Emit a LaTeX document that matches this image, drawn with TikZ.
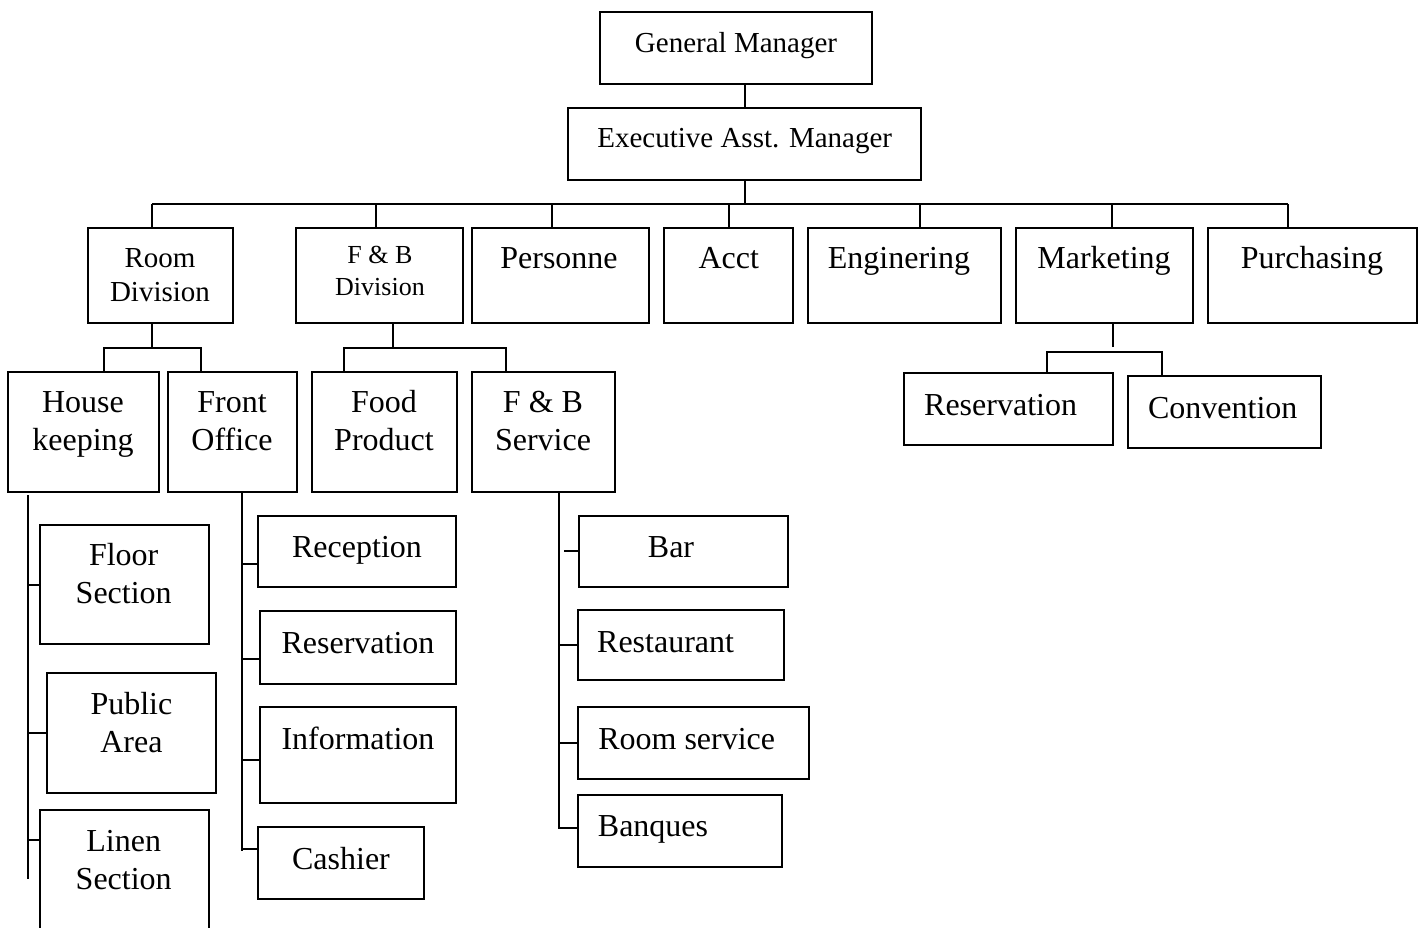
\documentclass[tikz,border=0pt]{standalone}
\usepackage{fontspec}
\setmainfont{Liberation Serif}
\usetikzlibrary{fit}
\begin{document}
\begin{tikzpicture}[x=0.5pt,y=-0.5pt,
  box/.style={draw, line width=1.1pt, inner sep=0pt, fit={#1}},
  link/.style={line width=1pt},
  txt/.style={anchor=base, inner sep=0pt, align=center, yshift=-1pt},
  ta/.style={txt, font=\fontsize{14.5}{17}\selectfont},
  tb/.style={txt, font=\fontsize{16}{19}\selectfont},
  tc/.style={txt, font=\fontsize{13}{15.6}\selectfont}]
\useasboundingbox (0,0) rectangle (1423,927);
% boxes
\node[box={(600,12) (872,84)}] (gm) {};
\node[box={(568,108) (921,180)}] (eam) {};
\node[box={(88,228) (233,323)}] (rd) {};
\node[box={(296,228) (463,323)}] (fbd) {};
\node[box={(472,228) (649,323)}] (pe) {};
\node[box={(664,228) (793,323)}] (ac) {};
\node[box={(808,228) (1001,323)}] (en) {};
\node[box={(1016,228) (1193,323)}] (mk) {};
\node[box={(1208,228) (1417,323)}] (pu) {};
\node[box={(8,372) (159,492)}] (hk) {};
\node[box={(168,372) (297,492)}] (fo) {};
\node[box={(312,372) (457,492)}] (fp) {};
\node[box={(472,372) (615,492)}] (fbs) {};
\node[box={(904,373) (1113,445)}] (mr) {};
\node[box={(1128,376) (1321,448)}] (cv) {};
\node[box={(40,525) (209,644)}] (fl) {};
\node[box={(47,673) (216,793)}] (pa) {};
\node[box={(40,810) (209,960)}] (ls) {};
\node[box={(258,516) (456,587)}] (rc) {};
\node[box={(260,611) (456,684)}] (rv) {};
\node[box={(260,707) (456,803)}] (inf) {};
\node[box={(258,827) (424,899)}] (ca) {};
\node[box={(579,516) (788,587)}] (ba) {};
\node[box={(578,610) (784,680)}] (re) {};
\node[box={(578,707) (809,779)}] (rs) {};
\node[box={(578,795) (782,867)}] (bq) {};
% texts (anchor = baseline of last line)
\node[ta] (gm-t) at (736,50) {General Manager};
\node[ta] (eam-t) at (744.7,145.7) {Executive Asst. Manager};
\node[ta] (rd-t) at (160,299) {Room\\Division};
\node[tc] (fbd-t) at (380,293) {F \& B\\Division};
\node[tb] (pe-t) at (559,266.7) {Personne};
\node[tb] (ac-t) at (728.7,266.7) {Acct};
\node[tb] (en-t) at (899,266.7) {Enginering};
\node[tb] (mk-t) at (1104,266.7) {Marketing};
\node[tb] (pu-t) at (1312,266.7) {Purchasing};
\node[tb] (hk-t) at (83,448.6) {House\\keeping};
\node[tb] (fo-t) at (232,448.6) {Front\\Office};
\node[tb] (fp-t) at (384,448.6) {Food\\Product};
\node[tb] (fbs-t) at (543,448.6) {F \& B\\Service};
\node[tb] (mr-t) at (1000.6,413) {Reservation};
\node[tb] (cv-t) at (1222.7,416.7) {Convention};
\node[tb] (fl-t) at (123.7,601) {Floor\\Section};
\node[tb] (pa-t) at (131.4,750) {Public\\Area};
\node[tb] (ls-t) at (123.7,887) {Linen\\Section};
\node[tb] (rc-t) at (357,555) {Reception};
\node[tb] (rv-t) at (358,651) {Reservation};
\node[tb] (inf-t) at (358,747) {Information};
\node[tb] (ca-t) at (341,867) {Cashier};
\node[tb] (ba-t) at (671,555) {Bar};
\node[tb] (re-t) at (665.6,650.5) {Restaurant};
\node[tb] (rs-t) at (686.7,747) {Room service};
\node[tb] (bq-t) at (653,834) {Banques};
% connector coordinates
\coordinate (d1) at (152,204);
\coordinate (d2) at (376,204);
\coordinate (d3) at (552,204);
\coordinate (d4) at (728.5,204);
\coordinate (d5) at (920,204);
\coordinate (d6) at (1112,204);
\coordinate (d7) at (1288,204);
\coordinate (rbm) at (152,348);
\coordinate (rb1) at (104,348);
\coordinate (rb2) at (200.5,348);
\coordinate (fbm) at (392.6,348);
\coordinate (fb1) at (344,348);
\coordinate (fb2) at (505.5,348);
\coordinate (mbm) at (1112.6,347);
\coordinate (mb1) at (1047,352);
\coordinate (mb2) at (1162,352);
\coordinate (hkt) at (28,495);
\coordinate (hkb) at (28,879);
\coordinate (lt) at (28,839.5);
\coordinate (fot) at (241.6,492);
\coordinate (fob) at (241.6,851);
\coordinate (ft1) at (241.6,564);
\coordinate (ft2) at (241.6,659);
\coordinate (ft3) at (241.6,760);
\coordinate (ft4) at (241.6,849);
\coordinate (sv) at (558.6,828);
\coordinate (bt) at (564,551);
% connectors
\draw[link] (eam.north) -- (eam.north |- gm.south);
\draw[link] (eam.south) -- (eam.south |- d1);
\draw[link] (d1) -- (d7);
\draw[link] (d1) -- (d1 |- rd.north);
\draw[link] (d2) -- (d2 |- fbd.north);
\draw[link] (d3) -- (d3 |- pe.north);
\draw[link] (d4) -- (d4 |- ac.north);
\draw[link] (d5) -- (d5 |- en.north);
\draw[link] (d6) -- (d6 |- mk.north);
\draw[link] (d7) -- (d7 |- pu.north);
% room division
\draw[link] (rbm) -- (rbm |- rd.south);
\draw[link] (rb1 |- hk.north) -- (rb1) -- (rb2) -- (rb2 |- fo.north);
% f&b division
\draw[link] (fbm) -- (fbm |- fbd.south);
\draw[link] (fb1 |- fp.north) -- (fb1) -- (fb2) -- (fb2 |- fbs.north);
% marketing
\draw[link] (mbm) -- (mbm |- mk.south);
\draw[link] (mb1 |- mr.north) -- (mb1) -- (mb2) -- (mb2 |- cv.north);
% housekeeping
\draw[link] (hkt) -- (hkb);
\draw[link] (fl.west) -- (fl.west -| hkt);
\draw[link] (pa.west) -- (pa.west -| hkt);
\draw[link] (lt) -- (lt -| ls.west);
% front office
\draw[link] (fot) -- (fob);
\draw[link] (ft1) -- (ft1 -| rc.west);
\draw[link] (ft2) -- (ft2 -| rv.west);
\draw[link] (ft3) -- (ft3 -| inf.west);
\draw[link] (ft4) -- (ft4 -| ca.west);
% f&b service
\draw[link] (sv |- fbs.south) -- (sv) -- (sv -| bq.west);
\draw[link] (bt) -- (bt -| ba.west);
\draw[link] (re.west) -- (re.west -| sv);
\draw[link] (rs.west) -- (rs.west -| sv);
\end{tikzpicture}
\end{document}
